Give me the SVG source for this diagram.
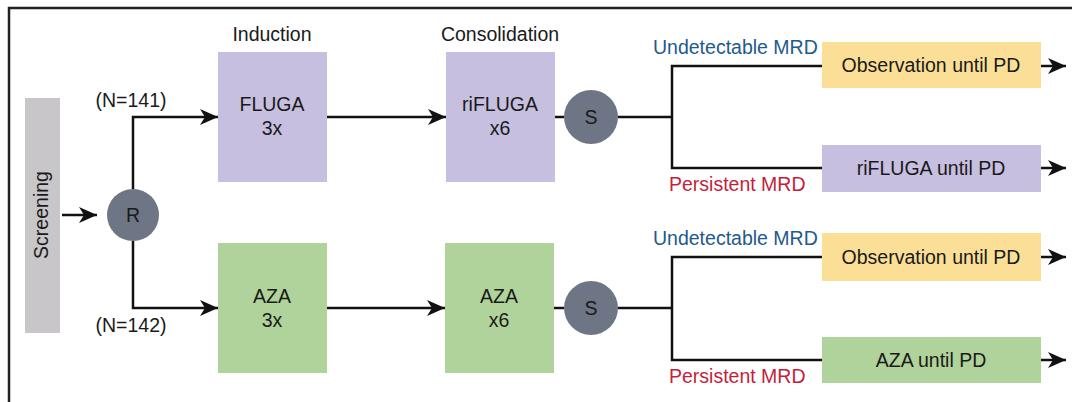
<svg xmlns="http://www.w3.org/2000/svg" width="1072" height="402" viewBox="0 0 1072 402">
<style>
text{font-family:"Liberation Sans",Arial,sans-serif;font-size:19.5px;fill:#1a1a1a;}
.c{text-anchor:middle;}
.ln{fill:none;stroke:#111;stroke-width:2.5;}
.pur{fill:#c6bfe0;}
.grn{fill:#b0d39b;}
.yel{fill:#fbdf96;}
.cir{fill:#6e7584;}
.blue{fill:#235a8c;}
.red{fill:#c41e3a;}
</style>
<defs>
<marker id="arr" markerUnits="userSpaceOnUse" markerWidth="20" markerHeight="16" refX="18" refY="8" orient="auto" overflow="visible">
<path d="M0,0 L18,8 L0,16 L5,8 z" fill="#111"/>
</marker>
</defs>
<rect x="9" y="8" width="1080" height="420" fill="none" stroke="#222" stroke-width="2.5"/>

<g id="connectors">
<path class="ln" d="M62,215 H97" marker-end="url(#arr)"/>
<path class="ln" d="M133,189 V117 H218" marker-end="url(#arr)"/>
<path class="ln" d="M133,241 V308 H218" marker-end="url(#arr)"/>
<path class="ln" d="M327,117 H446" marker-end="url(#arr)"/>
<path class="ln" d="M327,308 H445" marker-end="url(#arr)"/>
<path class="ln" d="M555,117 H564"/>
<path class="ln" d="M554,308 H564"/>
<path class="ln" d="M618,117 H672"/>
<path class="ln" d="M618,308 H672"/>
<path class="ln" d="M822,66 H672 V168 H822"/>
<path class="ln" d="M822,257 H672 V360 H822"/>
<path class="ln" d="M1041,66 H1066" marker-end="url(#arr)"/>
<path class="ln" d="M1041,168 H1066" marker-end="url(#arr)"/>
<path class="ln" d="M1041,257 H1066" marker-end="url(#arr)"/>
<path class="ln" d="M1041,360 H1066" marker-end="url(#arr)"/>
</g>

<g id="screening">
<rect x="25" y="98" width="35" height="235" fill="#c8c6c9"/>
<text class="c" transform="translate(48,215) rotate(-90)">Screening</text>
</g>

<g id="R">
<circle class="cir" cx="133" cy="215" r="26"/>
<text class="c" x="133" y="222">R</text>
</g>

<g id="labels">
<text class="c" x="131" y="107">(N=141)</text>
<text class="c" x="131" y="332">(N=142)</text>
<text class="c" x="272" y="41">Induction</text>
<text class="c" x="500" y="41">Consolidation</text>
</g>

<g id="fluga">
<rect class="pur" x="218" y="52" width="109" height="130"/>
<text class="c" x="272" y="111">FLUGA</text>
<text class="c" x="272" y="135">3x</text>
</g>

<g id="aza-induction">
<rect class="grn" x="218" y="243" width="109" height="130"/>
<text class="c" x="272" y="303">AZA</text>
<text class="c" x="272" y="327">3x</text>
</g>

<g id="rifluga">
<rect class="pur" x="446" y="52" width="109" height="130"/>
<text class="c" x="500" y="111">riFLUGA</text>
<text class="c" x="500" y="135">x6</text>
</g>

<g id="aza-consolidation">
<rect class="grn" x="445" y="243" width="109" height="130"/>
<text class="c" x="499" y="303">AZA</text>
<text class="c" x="499" y="327">x6</text>
</g>

<g id="S1">
<circle class="cir" cx="591" cy="117" r="27"/>
<text class="c" x="591" y="124">S</text>
</g>
<g id="S2">
<circle class="cir" cx="591" cy="308" r="27"/>
<text class="c" x="591" y="315">S</text>
</g>

<g id="obs1">
<rect class="yel" x="822" y="42" width="219" height="46"/>
<text class="c" x="931" y="72">Observation until PD</text>
</g>
<g id="rifluga-pd">
<rect class="pur" x="822" y="145" width="219" height="47"/>
<text class="c" x="931" y="175">riFLUGA until PD</text>
</g>
<g id="obs2">
<rect class="yel" x="822" y="233" width="219" height="48"/>
<text class="c" x="931" y="264">Observation until PD</text>
</g>
<g id="aza-pd">
<rect class="grn" x="822" y="337" width="219" height="46"/>
<text class="c" x="931" y="367">AZA until PD</text>
</g>

<g id="mrd-labels">
<text class="blue" x="653" y="54">Undetectable MRD</text>
<text class="red" x="669" y="191">Persistent MRD</text>
<text class="blue" x="653" y="245">Undetectable MRD</text>
<text class="red" x="669" y="383">Persistent MRD</text>
</g>
</svg>
